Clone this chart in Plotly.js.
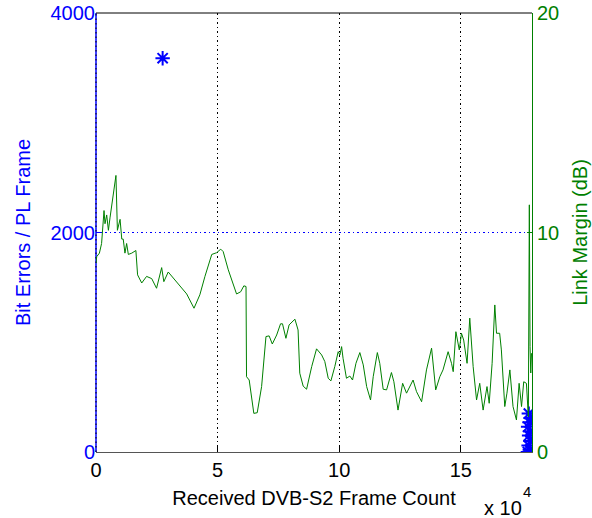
<!DOCTYPE html>
<html>
<head>
<meta charset="utf-8">
<script src="https://cdn.plot.ly/plotly-3.0.1.min.js"></script>
<style>html,body{margin:0;padding:0;background:#fff;}#chart{width:592px;height:518px;}</style>
</head>
<body>
<div id="chart"></div>
<script>
// Link margin (dB) vs received frame count
const marginFrames = [0,300,1400,2300,3300,3700,4400,5100,5800,6900,8200,8800,9900,10600,11200,11900,12600,13300,14700,16400,17100,18800,20800,22900,24900,27000,27900,29700,32500,35200,37300,40300,42700,44800,47600,49600,51300,52300,54400,57800,59500,60800,61700,61900,63000,64900,66300,68100,69900,71200,72500,74300,75900,76700,78100,79400,81800,83100,83800,85200,86600,88700,90700,92800,94100,95500,96600,98200,99600,100300,101000,101600,103000,104400,105500,106900,108500,109900,111300,112900,114000,115700,116700,118100,119500,121500,122500,124200,126100,127700,130400,131800,133900,135900,138000,139700,141400,142700,144800,146200,146900,148000,149400,150300,151200,152600,153700,155100,156500,157800,159200,160800,161700,162900,164000,164700,166000,166700,168100,169000,170200,171500,172900,174000,175000,175900,177000,177800,178200,178500,178800,179100];
const marginDb = [8.6,8.9,9.06,9.5,11.0,10.4,10.8,10.1,10.7,11.5,12.6,10.1,10.6,9.7,9.7,9.06,9.5,9.0,9.06,9.18,8.07,7.7,8.0,7.9,7.46,8.4,7.76,8.2,7.84,7.5,7.2,6.55,7.16,8.0,9.0,9.08,9.24,9.13,8.3,7.2,7.3,7.57,7.54,3.43,3.28,1.76,1.79,2.98,5.26,5.29,4.92,5.33,5.84,5.84,5.18,5.79,6.05,5.56,3.59,3.0,2.86,3.89,4.7,4.42,4.12,3.36,3.24,3.89,4.57,4.42,4.8,4.27,3.36,3.46,3.28,4.04,4.53,3.97,2.98,2.37,3.43,4.53,4.04,2.86,2.83,3.62,3.2,1.91,3.13,2.68,3.28,2.75,2.29,3.74,4.73,2.83,3.43,3.74,4.57,4.04,3.66,5.48,4.65,5.41,5.1,4.04,6.1,3.89,2.37,3.13,1.91,2.98,2.22,4.04,6.7,5.41,5.41,4.65,2.07,2.68,3.74,2.07,1.46,3.13,2.07,3.2,3.13,1.61,11.26,4.8,3.6,4.5];

// Bit errors per PL frame
const errFrames = [27400,177600,178400,177900,178700,178100,178500,177700,178300,178800,178000];
const errCounts = [3588,0,20,60,100,150,190,230,270,310,350];

const xTickVals = [0,50000,100000,150000];
const xTickText = ['0','5','10','15'];
const leftTicks = [0,2000,4000];
const rightTicks = [0,10,20];

const BLUE = '#0000FF', GREEN = '#008000';
const FONT = 'Liberation Sans, Arial, Helvetica, sans-serif';
const DOT = '1.5px,3px';

const traces = [
  {x: marginFrames, y: marginDb, type:'scatter', mode:'lines', yaxis:'y2',
   line:{color:GREEN, width:1}, hoverinfo:'skip'},
  {x: errFrames, y: errCounts, type:'scatter', mode:'markers', yaxis:'y',
   marker:{symbol:'asterisk-open', size:12, color:BLUE, line:{color:BLUE, width:2}}, hoverinfo:'skip'}
];

const layout = {
  width:592, height:518,
  margin:{l:96, r:60, t:13, b:66},
  paper_bgcolor:'#fff', plot_bgcolor:'#fff',
  showlegend:false,
  font:{family:FONT, size:20, color:'#000'},
  xaxis:{range:[0,179300], tickvals:xTickVals, ticktext:xTickText,
    showgrid:true, gridcolor:'#000', griddash:DOT, gridwidth:1,
    zeroline:false, showline:true, linecolor:'#555', linewidth:1,
    ticks:'inside', ticklen:5, tickcolor:'#000',
    tickfont:{size:20, color:'#000'},
    title:{text:'Received DVB-S2 Frame Count', font:{size:20, color:'#000'}, standoff:10}},
  yaxis:{range:[0,4000], tickvals:leftTicks,
    showgrid:true, gridcolor:BLUE, griddash:DOT, gridwidth:1,
    zeroline:false, showline:false,
    ticks:'inside', ticklen:5, tickcolor:BLUE,
    tickfont:{size:20, color:BLUE},
    title:{text:'Bit Errors / PL Frame', font:{size:20, color:BLUE}, standoff:14}},
  yaxis2:{range:[0,20], tickvals:rightTicks, overlaying:'y', side:'right',
    showgrid:false, zeroline:false, showline:true, linecolor:GREEN, linewidth:1,
    ticks:'inside', ticklen:5, tickcolor:GREEN,
    tickfont:{size:20, color:GREEN},
    title:{text:'Link Margin (dB)', font:{size:20, color:GREEN}, standoff:14}},
  shapes:[
    {type:'line', xref:'paper', yref:'paper', x0:0, x1:0, y0:0, y1:1, layer:'below', line:{color:BLUE, width:1.5}},
    {type:'line', xref:'paper', yref:'paper', x0:0, x1:0, y0:0, y1:1, layer:'below', line:{color:'#000', width:1, dash:DOT}},
    {type:'line', xref:'paper', yref:'paper', x0:0, x1:1, y0:1, y1:1, layer:'above', line:{color:'#000', width:1}}
  ],
  annotations:[
    {text:'x 10', xref:'paper', yref:'paper', x:0.886, y:-0.128, xanchor:'left', yanchor:'middle', showarrow:false, font:{size:20, color:'#000'}},
    {text:'4', xref:'paper', yref:'paper', x:0.988, y:-0.091, xanchor:'center', yanchor:'middle', showarrow:false, font:{size:15, color:'#000'}}
  ]
};

Plotly.newPlot('chart', traces, layout, {displayModeBar:false, staticPlot:true});
</script>
</body>
</html>
